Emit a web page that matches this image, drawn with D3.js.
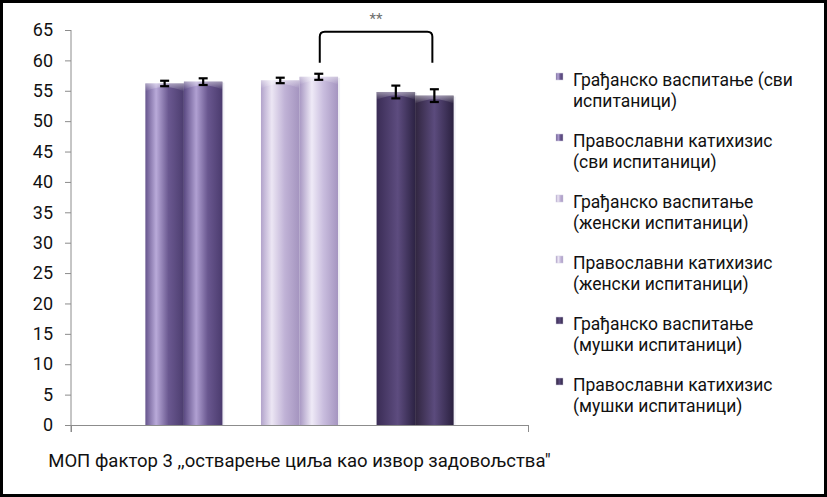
<!DOCTYPE html>
<html>
<head>
<meta charset="utf-8">
<script src="https://cdn.jsdelivr.net/npm/d3@7"></script>
<style>
  body { margin: 0; background: #fff; }
  svg { display: block; }
</style>
</head>
<body>
<div id="chart"></div>
<script>
// data
const seriesNames = [
    "Грађанско васпитање (сви испитаници)",
    "Православни катихизис (сви испитаници)",
    "Грађанско васпитање (женски испитаници)",
    "Православни катихизис (женски испитаници)",
    "Грађанско васпитање (мушки испитаници)",
    "Православни катихизис (мушки испитаници)"
]
const legendLines = [
    ["Грађанско васпитање (сви", "испитаници)"],
    ["Православни катихизис", "(сви испитаници)"],
    ["Грађанско васпитање", "(женски испитаници)"],
    ["Православни катихизис", "(женски испитаници)"],
    ["Грађанско васпитање", "(мушки испитаници)"],
    ["Православни катихизис", "(мушки испитаници)"]
]
const values = [56.2, 56.5, 56.7, 57.3, 54.8, 54.2]
const errors = [0.45, 0.55, 0.45, 0.5, 1.05, 1.05]
const yTicks = [0, 5, 10, 15, 20, 25, 30, 35, 40, 45, 50, 55, 60, 65]
const category = "МОП фактор 3 ,,остварење циља као извор задовољства\""
const sigPair = [3, 5]          // bracket between these two series
const sigLevels = [59.6, 64.7]  // bracket bottom / top, in axis units
const sigLabel = "**"

// styles: horizontal gradient stops per series (cylinder look)
const barStops = [
    [["0%", "#66558d"], ["28%", "#b9aad9"], ["60%", "#6a5890"], ["100%", "#4c3d6f"]],
    [["0%", "#5b4a83"], ["32%", "#b0a0d2"], ["62%", "#69578f"], ["100%", "#4b3b6e"]],
    [["0%", "#b2a3cb"], ["28%", "#ece6f4"], ["62%", "#c0b2d6"], ["100%", "#a494bf"]],
    [["0%", "#a797c2"], ["32%", "#efeaf7"], ["62%", "#c9bdde"], ["100%", "#a595c0"]],
    [["0%", "#3a2c55"], ["55%", "#5d4c7f"], ["100%", "#2d2344"]],
    [["0%", "#30253f"], ["50%", "#5b4b7d"], ["100%", "#2b2140"]]
]

const width = 827,
      height = 497,
      margin = ({ top: 30, right: 299, bottom: 72, left: 71 })

const font = "Roboto, 'Liberation Sans', sans-serif"

let svg = d3.select("#chart")
    .append("svg")
    .attr("width", width)
    .attr("height", height)
    .attr("viewBox", [0, 0, width, height])
    .style("font-family", font)

let defs = svg.append("defs")
barStops.forEach((stops, i) => {
    let g = defs.append("linearGradient")
        .attr("id", "bar" + i)
        .attr("x1", "0%").attr("x2", "100%")
        .attr("y1", "0%").attr("y2", "0%")
    stops.forEach(s => g.append("stop").attr("offset", s[0]).attr("stop-color", s[1]))
})
let cap = defs.append("linearGradient")
    .attr("id", "cap")
    .attr("x1", "0%").attr("x2", "0%")
    .attr("y1", "0%").attr("y2", "100%")
cap.append("stop").attr("offset", "0%").attr("stop-color", "#fff").attr("stop-opacity", 0.45)
cap.append("stop").attr("offset", "100%").attr("stop-color", "#fff").attr("stop-opacity", 0)

// one category, 8 slots: pairs of bars with an empty slot between pairs
const slots = ["0", "1", "g1", "2", "3", "g2", "4", "5"]
let x = d3.scaleBand()
    .domain(slots)
    .range([margin.left, width - margin.right])
    .paddingInner(0)
    .paddingOuter(1.93)
let y = d3.scaleLinear()
    .domain([0, 65])
    .range([height - margin.bottom, margin.top])

const axisColor = "#8c8c8c"

// y axis
let yAxis = svg.append("g")
    .attr("transform", `translate(${margin.left},0)`)
    .call(d3.axisLeft(y).tickValues(yTicks).tickSize(6).tickSizeOuter(0).tickPadding(12))
yAxis.select(".domain").remove()
yAxis.selectAll("line").attr("stroke", axisColor)
yAxis.selectAll("text")
    .style("font-family", font)
    .style("font-size", "18px")
    .attr("fill", "#111")
yAxis.append("line")
    .attr("x1", 0).attr("x2", 0)
    .attr("y1", y(65)).attr("y2", y(0) + 7)
    .attr("stroke", axisColor)

// x axis: ticks on the category edges
let xEdge = d3.scaleLinear().domain([0, 1]).range([margin.left, width - margin.right])
let xAxis = svg.append("g")
    .attr("transform", `translate(0,${y(0)})`)
    .call(d3.axisBottom(xEdge).tickValues([0, 1]).tickSize(7).tickSizeOuter(0).tickFormat(""))
xAxis.select(".domain").attr("stroke", axisColor)
xAxis.selectAll("line").attr("stroke", axisColor)

// category label
svg.append("text")
    .attr("x", xEdge(0.5))
    .attr("y", y(0) + 42)
    .attr("text-anchor", "middle")
    .style("font-size", "18.5px")
    .attr("fill", "#111")
    .text(category)

// bars
let bar = svg.selectAll(".bar")
    .data(values)
    .join("g")
    .attr("class", "bar")

bar.append("rect")
    .attr("x", (d, i) => x(String(i)) + 2)
    .attr("width", x.bandwidth())
    .attr("y", d => y(d) + 1)
    .attr("height", d => y(0) - y(d) - 1)
    .attr("fill", "#e6e6ee")
    .attr("opacity", 0.6)

bar.append("rect")
    .attr("x", (d, i) => x(String(i)))
    .attr("width", x.bandwidth())
    .attr("y", d => y(d))
    .attr("height", d => y(0) - y(d))
    .attr("fill", (d, i) => `url(#bar${i})`)

// rounded soft top edge
bar.append("path")
    .attr("d", (d, i) => {
        let x0 = x(String(i)), w = x.bandwidth(), t = y(d)
        return `M${x0},${t} L${x0 + w},${t} L${x0 + w},${t + 8} Q${x0 + w / 2},${t - 1} ${x0},${t + 8} Z`
    })
    .attr("fill", "url(#cap)")

// error bars
let err = bar.append("g")
    .attr("stroke", "#000")
    .attr("stroke-width", 2.2)
err.append("line")
    .attr("x1", (d, i) => x(String(i)) + x.bandwidth() / 2)
    .attr("x2", (d, i) => x(String(i)) + x.bandwidth() / 2)
    .attr("y1", (d, i) => y(d - errors[i]))
    .attr("y2", (d, i) => y(d + errors[i]))
err.append("line")
    .attr("x1", (d, i) => x(String(i)) + x.bandwidth() / 2 - 4.5)
    .attr("x2", (d, i) => x(String(i)) + x.bandwidth() / 2 + 4.5)
    .attr("y1", (d, i) => y(d + errors[i]))
    .attr("y2", (d, i) => y(d + errors[i]))
err.append("line")
    .attr("x1", (d, i) => x(String(i)) + x.bandwidth() / 2 - 4.5)
    .attr("x2", (d, i) => x(String(i)) + x.bandwidth() / 2 + 4.5)
    .attr("y1", (d, i) => y(d - errors[i]))
    .attr("y2", (d, i) => y(d - errors[i]))

// significance bracket
let bx1 = x(String(sigPair[0])) + x.bandwidth() / 2 + 1,
    bx2 = x(String(sigPair[1])) + x.bandwidth() / 2 - 2,
    by1 = y(sigLevels[0]),
    by2 = y(sigLevels[1]),
    r = 5
svg.append("path")
    .attr("d", `M${bx1},${by1} L${bx1},${by2 + r} Q${bx1},${by2} ${bx1 + r},${by2} ` +
               `L${bx2 - r},${by2} Q${bx2},${by2} ${bx2},${by2 + r} L${bx2},${by1}`)
    .attr("fill", "none")
    .attr("stroke", "#000")
    .attr("stroke-width", 2)
svg.append("text")
    .attr("x", (bx1 + bx2) / 2)
    .attr("y", by2 - 8)
    .attr("text-anchor", "middle")
    .style("font-size", "15px")
    .attr("fill", "#6e6e6e")
    .text(sigLabel)

// legend
let legend = svg.selectAll(".legend")
    .data(legendLines)
    .join("g")
    .attr("class", "legend")
    .attr("transform", (d, i) => `translate(556,${86 + i * 61})`)
legend.append("rect")
    .attr("x", 0)
    .attr("y", -13)
    .attr("width", 7)
    .attr("height", 7)
    .attr("fill", (d, i) => `url(#bar${i})`)
    .attr("stroke", "#d0cce0")
    .attr("stroke-width", 0.5)
legend.append("text")
    .style("font-size", "17.5px")
    .attr("fill", "#111")
    .selectAll("tspan")
    .data(d => d)
    .join("tspan")
    .attr("x", 17)
    .attr("y", (d, j) => j * 21)
    .text(d => d)
legend.append("title").text((d, i) => seriesNames[i])

// black frame round the picture
svg.append("rect")
    .attr("x", 1.5)
    .attr("y", 1.5)
    .attr("width", width - 3)
    .attr("height", height - 3)
    .attr("fill", "none")
    .attr("stroke", "#000")
    .attr("stroke-width", 3)
</script>
</body>
</html>
